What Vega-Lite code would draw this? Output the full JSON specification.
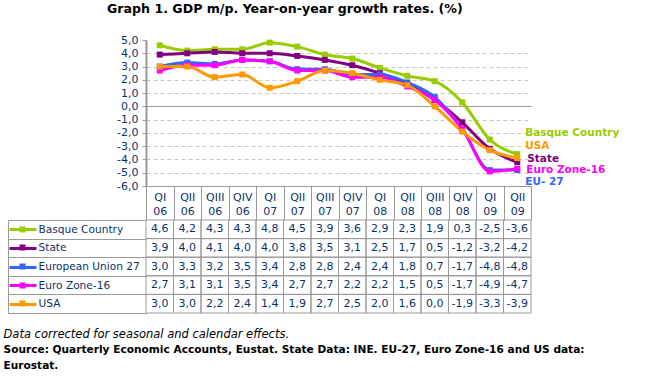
{
  "$schema": "https://vega.github.io/schema/vega-lite/v6.json",
  "width": 385,
  "height": 146,
  "autosize": {"type": "none"},
  "padding": {"left": 146, "top": 40, "right": 115, "bottom": 197},
  "background": "white",
  "config": {
    "view": {"stroke": null},
    "font": "DejaVu Sans",
    "locale": {"number": {"decimal": ",", "thousands": ".", "grouping": [3], "currency": ["", " €"], "minus": "-"}},
    "axis": {"labelFont": "DejaVu Sans", "titleFont": "DejaVu Sans"}
  },
  "title": {"text": "Graph 1. GDP m/p. Year-on-year growth rates. (%)", "anchor": "start", "frame": "group", "dx": -39, "offset": 18, "fontSize": 12.6, "fontWeight": "bold", "color": "#000000", "font": "DejaVu Sans"},
  "datasets": {
    "gdp": [
      {"q": "QI 06", "series": "Basque Country", "value": 4.6},
      {"q": "QII 06", "series": "Basque Country", "value": 4.2},
      {"q": "QIII 06", "series": "Basque Country", "value": 4.3},
      {"q": "QIV 06", "series": "Basque Country", "value": 4.3},
      {"q": "QI 07", "series": "Basque Country", "value": 4.8},
      {"q": "QII 07", "series": "Basque Country", "value": 4.5},
      {"q": "QIII 07", "series": "Basque Country", "value": 3.9},
      {"q": "QIV 07", "series": "Basque Country", "value": 3.6},
      {"q": "QI 08", "series": "Basque Country", "value": 2.9},
      {"q": "QII 08", "series": "Basque Country", "value": 2.3},
      {"q": "QIII 08", "series": "Basque Country", "value": 1.9},
      {"q": "QIV 08", "series": "Basque Country", "value": 0.3},
      {"q": "QI 09", "series": "Basque Country", "value": -2.5},
      {"q": "QII 09", "series": "Basque Country", "value": -3.6},
      {"q": "QI 06", "series": "State", "value": 3.9},
      {"q": "QII 06", "series": "State", "value": 4.0},
      {"q": "QIII 06", "series": "State", "value": 4.1},
      {"q": "QIV 06", "series": "State", "value": 4.0},
      {"q": "QI 07", "series": "State", "value": 4.0},
      {"q": "QII 07", "series": "State", "value": 3.8},
      {"q": "QIII 07", "series": "State", "value": 3.5},
      {"q": "QIV 07", "series": "State", "value": 3.1},
      {"q": "QI 08", "series": "State", "value": 2.5},
      {"q": "QII 08", "series": "State", "value": 1.7},
      {"q": "QIII 08", "series": "State", "value": 0.5},
      {"q": "QIV 08", "series": "State", "value": -1.2},
      {"q": "QI 09", "series": "State", "value": -3.2},
      {"q": "QII 09", "series": "State", "value": -4.2},
      {"q": "QI 06", "series": "European Union 27", "value": 3.0},
      {"q": "QII 06", "series": "European Union 27", "value": 3.3},
      {"q": "QIII 06", "series": "European Union 27", "value": 3.2},
      {"q": "QIV 06", "series": "European Union 27", "value": 3.5},
      {"q": "QI 07", "series": "European Union 27", "value": 3.4},
      {"q": "QII 07", "series": "European Union 27", "value": 2.8},
      {"q": "QIII 07", "series": "European Union 27", "value": 2.8},
      {"q": "QIV 07", "series": "European Union 27", "value": 2.4},
      {"q": "QI 08", "series": "European Union 27", "value": 2.4},
      {"q": "QII 08", "series": "European Union 27", "value": 1.8},
      {"q": "QIII 08", "series": "European Union 27", "value": 0.7},
      {"q": "QIV 08", "series": "European Union 27", "value": -1.7},
      {"q": "QI 09", "series": "European Union 27", "value": -4.8},
      {"q": "QII 09", "series": "European Union 27", "value": -4.8},
      {"q": "QI 06", "series": "Euro Zone-16", "value": 2.7},
      {"q": "QII 06", "series": "Euro Zone-16", "value": 3.1},
      {"q": "QIII 06", "series": "Euro Zone-16", "value": 3.1},
      {"q": "QIV 06", "series": "Euro Zone-16", "value": 3.5},
      {"q": "QI 07", "series": "Euro Zone-16", "value": 3.4},
      {"q": "QII 07", "series": "Euro Zone-16", "value": 2.7},
      {"q": "QIII 07", "series": "Euro Zone-16", "value": 2.7},
      {"q": "QIV 07", "series": "Euro Zone-16", "value": 2.2},
      {"q": "QI 08", "series": "Euro Zone-16", "value": 2.2},
      {"q": "QII 08", "series": "Euro Zone-16", "value": 1.5},
      {"q": "QIII 08", "series": "Euro Zone-16", "value": 0.5},
      {"q": "QIV 08", "series": "Euro Zone-16", "value": -1.7},
      {"q": "QI 09", "series": "Euro Zone-16", "value": -4.9},
      {"q": "QII 09", "series": "Euro Zone-16", "value": -4.7},
      {"q": "QI 06", "series": "USA", "value": 3.0},
      {"q": "QII 06", "series": "USA", "value": 3.0},
      {"q": "QIII 06", "series": "USA", "value": 2.2},
      {"q": "QIV 06", "series": "USA", "value": 2.4},
      {"q": "QI 07", "series": "USA", "value": 1.4},
      {"q": "QII 07", "series": "USA", "value": 1.9},
      {"q": "QIII 07", "series": "USA", "value": 2.7},
      {"q": "QIV 07", "series": "USA", "value": 2.5},
      {"q": "QI 08", "series": "USA", "value": 2.0},
      {"q": "QII 08", "series": "USA", "value": 1.6},
      {"q": "QIII 08", "series": "USA", "value": 0.0},
      {"q": "QIV 08", "series": "USA", "value": -1.9},
      {"q": "QI 09", "series": "USA", "value": -3.3},
      {"q": "QII 09", "series": "USA", "value": -3.9}
    ]
  },
  "data": {"name": "gdp"},
  "layer": [
    {
      "layer": [
        {
          "mark": {"type": "line", "interpolate": "monotone", "strokeWidth": 3, "point": {"shape": "square", "size": 36, "filled": true, "opacity": 1}},
          "encoding": {
            "x": {
              "field": "q", "type": "ordinal",
              "scale": {"type": "band", "domain": ["QI 06","QII 06","QIII 06","QIV 06","QI 07","QII 07","QIII 07","QIV 07","QI 08","QII 08","QIII 08","QIV 08","QI 09","QII 09"], "paddingInner": 0, "paddingOuter": 0},
              "axis": {
                "title": "Data corrected for seasonal and calendar effects.",
                "titleFontStyle": "italic", "titleFontWeight": "normal", "titleFontSize": 11.5, "titleColor": "#000000",
                "titleX": -143, "titleY": 151, "titleAlign": "left", "titleAnchor": "start", "titleBaseline": "alphabetic",
                "labelAngle": 0, "labelExpr": "split(datum.label, ' ')", "labelLineHeight": 14, "labelPadding": -29,
                "labelColor": "#0b3268", "labelFontSize": 11,
                "tickBand": "extent", "tickSize": 34, "tickColor": "#999999", "domainColor": "#999999", "grid": false
              }
            },
            "y": {
              "field": "value", "type": "quantitative",
              "scale": {"domain": [-6, 5], "nice": false, "zero": false},
              "axis": {
                "title": null, "values": [-6,-5,-4,-3,-2,-1,0,1,2,3,4,5], "tickCount": 12, "format": ".1f", "labelOverlap": false,
                "labelColor": "#0b3268", "labelFontSize": 11, "labelPadding": 4,
                "tickSize": 4, "tickColor": "#999999", "domainColor": "#999999", "domainWidth": 2,
                "grid": true,
                "gridColor": {"condition": {"test": "datum.value === 0", "value": "#999999"}, "value": "#c8c8c8"},
                "gridDash": {"condition": {"test": "datum.value === 0", "value": []}, "value": [4, 3]},
                "gridOpacity": {"condition": {"test": "datum.value === 5 || datum.value === -6", "value": 0}, "value": 1}
              }
            },
            "color": {
              "field": "series", "type": "nominal",
              "scale": {"domain": ["Basque Country", "State", "European Union 27", "Euro Zone-16", "USA"], "range": ["#99cc00", "#800080", "#3366ff", "#ff00ff", "#ff9900"]},
              "legend": null
            }
          }
        },
        {
          "transform": [{"filter": "datum.series === 'Basque Country' && datum.q === 'QII 09'"}],
          "mark": {"type": "text", "align": "left", "dx": 8, "dy": -21, "fontWeight": "bold", "fontSize": 10.5, "color": "#99cc00"},
          "encoding": {"x": {"field": "q", "type": "ordinal"}, "y": {"field": "value", "type": "quantitative"}, "text": {"value": "Basque Country"}}
        },
        {
          "transform": [{"filter": "datum.series === 'USA' && datum.q === 'QII 09'"}],
          "mark": {"type": "text", "align": "left", "dx": 8, "dy": -12, "fontWeight": "bold", "fontSize": 10.5, "color": "#ff9900"},
          "encoding": {"x": {"field": "q", "type": "ordinal"}, "y": {"field": "value", "type": "quantitative"}, "text": {"value": "USA"}}
        },
        {
          "transform": [{"filter": "datum.series === 'State' && datum.q === 'QII 09'"}],
          "mark": {"type": "text", "align": "left", "dx": 10, "dy": -3, "fontWeight": "bold", "fontSize": 10.5, "color": "#800080"},
          "encoding": {"x": {"field": "q", "type": "ordinal"}, "y": {"field": "value", "type": "quantitative"}, "text": {"value": "State"}}
        },
        {
          "transform": [{"filter": "datum.series === 'Euro Zone-16' && datum.q === 'QII 09'"}],
          "mark": {"type": "text", "align": "left", "dx": 9, "dy": 1, "fontWeight": "bold", "fontSize": 10.5, "color": "#ff00ff"},
          "encoding": {"x": {"field": "q", "type": "ordinal"}, "y": {"field": "value", "type": "quantitative"}, "text": {"value": "Euro Zone-16"}}
        },
        {
          "transform": [{"filter": "datum.series === 'European Union 27' && datum.q === 'QII 09'"}],
          "mark": {"type": "text", "align": "left", "dx": 8, "dy": 12, "fontWeight": "bold", "fontSize": 10.5, "color": "#3366ff"},
          "encoding": {"x": {"field": "q", "type": "ordinal"}, "y": {"field": "value", "type": "quantitative"}, "text": {"value": "EU- 27"}}
        }
      ]
    },
    {
      "mark": {"type": "rect", "fill": "transparent", "stroke": "#999999", "strokeWidth": 1},
      "encoding": {
        "x": {"field": "q", "type": "ordinal"},
        "y": {
          "field": "series", "type": "nominal",
          "scale": {"domain": ["Basque Country", "State", "European Union 27", "Euro Zone-16", "USA"], "range": [180, 273], "paddingInner": 0, "paddingOuter": 0},
          "axis": {
            "orient": "left", "offset": 138, "domain": true, "domainColor": "#999999",
            "tickBand": "extent", "tickSize": -138, "tickColor": "#999999",
            "labelAlign": "left", "labelBaseline": "middle", "labelPadding": 108, "labelColor": "#0b3268", "labelFontSize": 10.6,
            "grid": false,
            "title": ["Source: Quarterly Economic Accounts, Eustat. State Data: INE.  EU-27, Euro Zone-16 and US data:", "Eurostat."],
            "titleAngle": 0, "titleAlign": "left", "titleBaseline": "alphabetic", "titleX": -5, "titleY": 312,
            "titleFontWeight": "bold", "titleFontSize": 10.6, "titleColor": "#000000", "titleLineHeight": 16
          }
        }
      }
    },
    {
      "mark": {"type": "text", "fontSize": 11, "color": "#0b3268"},
      "encoding": {
        "x": {"field": "q", "type": "ordinal"},
        "y": {
          "field": "series", "type": "nominal",
          "scale": {"domain": ["Basque Country", "State", "European Union 27", "Euro Zone-16", "USA"], "range": [180, 273], "paddingInner": 0, "paddingOuter": 0},
          "axis": {
            "orient": "left", "offset": 110, "domain": false, "labels": false, "grid": false, "title": null,
            "tickSize": 27, "tickWidth": 3,
            "tickColor": {"condition": [
              {"test": "datum.value === 'Basque Country'", "value": "#99cc00"},
              {"test": "datum.value === 'State'", "value": "#800080"},
              {"test": "datum.value === 'European Union 27'", "value": "#3366ff"},
              {"test": "datum.value === 'Euro Zone-16'", "value": "#ff00ff"}
            ], "value": "#ff9900"}
          }
        },
        "text": {"field": "value", "type": "quantitative", "format": ".1f"}
      }
    },
    {
      "mark": {"type": "rect", "opacity": 0},
      "encoding": {
        "x": {"field": "q", "type": "ordinal"},
        "y": {
          "field": "series", "type": "nominal",
          "scale": {"domain": ["Basque Country", "State", "European Union 27", "Euro Zone-16", "USA"], "range": [180, 273], "paddingInner": 0, "paddingOuter": 0},
          "axis": {
            "orient": "left", "offset": 121, "domain": false, "labels": false, "grid": false, "title": null,
            "tickSize": 6, "tickWidth": 6,
            "tickColor": {"condition": [
              {"test": "datum.value === 'Basque Country'", "value": "#99cc00"},
              {"test": "datum.value === 'State'", "value": "#800080"},
              {"test": "datum.value === 'European Union 27'", "value": "#3366ff"},
              {"test": "datum.value === 'Euro Zone-16'", "value": "#ff00ff"}
            ], "value": "#ff9900"}
          }
        }
      }
    }
  ],
  "resolve": {"scale": {"y": "independent"}}
}
